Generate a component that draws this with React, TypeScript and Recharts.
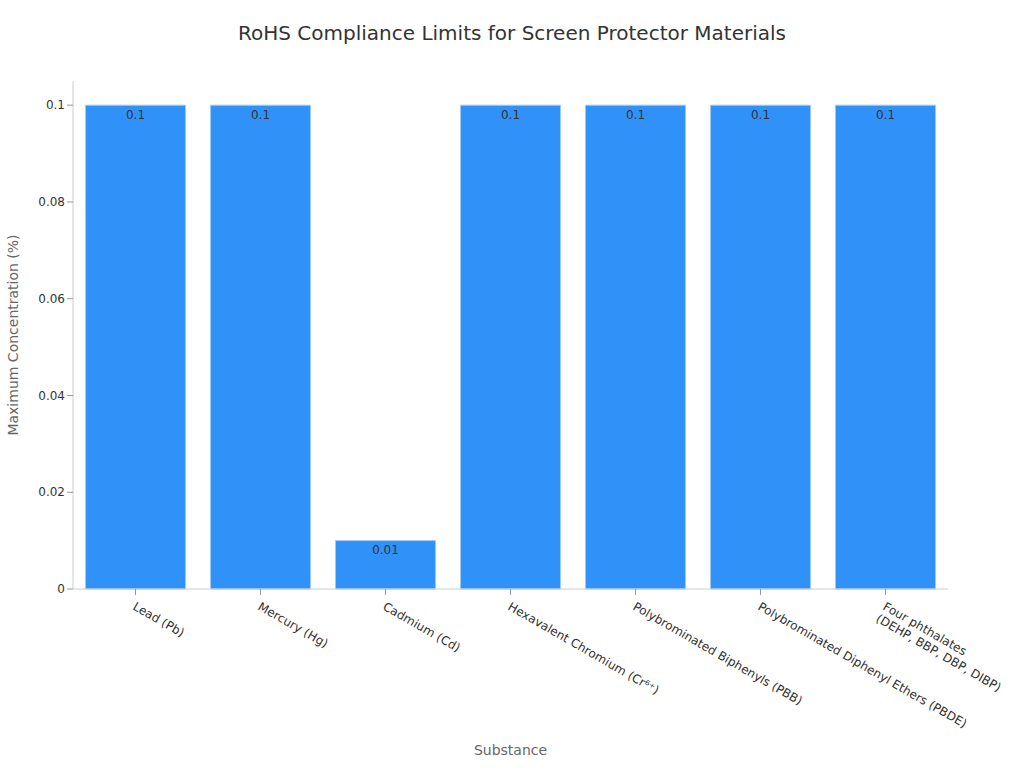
import { BarChart, Bar, XAxis, YAxis, LabelList } from "recharts";

const substances = [
  "Lead (Pb)",
  "Mercury (Hg)",
  "Cadmium (Cd)",
  "Hexavalent Chromium (Cr⁶⁺)",
  "Polybrominated Biphenyls (PBB)",
  "Polybrominated Diphenyl Ethers (PBDE)",
  "Four phthalates\n(DEHP, BBP, DBP, DIBP)",
];
const limits = [0.1, 0.1, 0.01, 0.1, 0.1, 0.1, 0.1];
const yTicks = [0, 0.02, 0.04, 0.06, 0.08, 0.1];

const data = substances.map((name, i) => ({ name, limit: limits[i] }));

const FONT = "DejaVu Sans, sans-serif";

// x labels are tilted 30 degrees and may hold two lines
function RotatedTick(props: any) {
  const { x, y, payload } = props;
  const lines = String(payload.value).split("\n");
  return (
    <g transform={`translate(${x},${y})`}>
      <text
        transform="rotate(30)"
        x={3}
        y={12}
        textAnchor="start"
        fontSize={12}
        fontFamily={FONT}
        fill="#333"
      >
        {lines.map((l, i) => (
          <tspan key={i} x={3} dy={i === 0 ? 0 : 14}>
            {l}
          </tspan>
        ))}
      </text>
    </g>
  );
}

export default function App() {
  return (
    <div style={{ position: "absolute", left: 0, top: 0, width: 1024, height: 768, fontFamily: FONT }}>
      <div
        style={{
          position: "absolute",
          top: 21,
          left: 0,
          width: 1024,
          textAlign: "center",
          fontSize: 20,
          color: "#333",
        }}
      >
        RoHS Compliance Limits for Screen Protector Materials
      </div>
      <BarChart
        width={1024}
        height={768}
        data={data}
        margin={{ top: 81, right: 76, bottom: 9, left: 10 }}
        barCategoryGap="10%"
      >
        <XAxis
          dataKey="name"
          interval={0}
          height={170}
          tick={<RotatedTick />}
          tickSize={6}
          stroke="#ccc"
          tickLine={{ stroke: "#999" }}
          label={{
            value: "Substance",
            position: "insideBottom",
            offset: 4,
            fill: "#666",
            fontSize: 14,
            fontFamily: FONT,
          }}
        />
        <YAxis
          width={63}
          domain={[0, 0.105]}
          ticks={yTicks}
          tickFormatter={(v: number) => String(v)}
          stroke="#ccc"
          tickLine={{ stroke: "#999" }}
          tick={{ fill: "#333", fontSize: 12, fontFamily: FONT }}
          label={{
            value: "Maximum Concentration (%)",
            angle: -90,
            position: "insideLeft",
            offset: 3,
            fill: "#666",
            fontSize: 14,
            fontFamily: FONT,
            style: { textAnchor: "middle" },
          }}
        />
        <Bar dataKey="limit" fill="#3092f8" stroke="#9ccbf8" strokeWidth={1} isAnimationActive={false}>
          <LabelList
            dataKey="limit"
            position="insideTop"
            offset={5}
            fill="#333"
            fontSize={12}
            fontFamily={FONT}
          />
        </Bar>
      </BarChart>
    </div>
  );
}
